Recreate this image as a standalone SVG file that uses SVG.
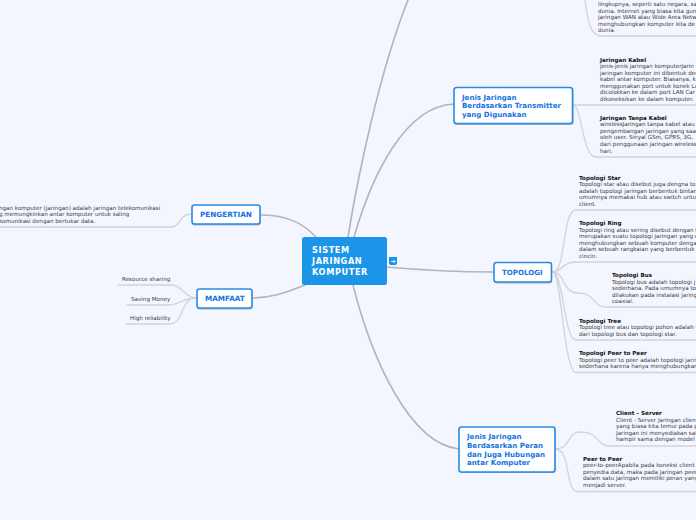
<svg xmlns="http://www.w3.org/2000/svg" width="696" height="520" viewBox="0 0 696 520">
<style>
text{font-family:"DejaVu Sans",Verdana,sans-serif}
.c{fill:none;stroke:#b4b4b8;stroke-width:1.6;stroke-linecap:round}
.s{fill:none;stroke:#d2d3da;stroke-width:1.3;stroke-linecap:round}
.n{fill:#fff;stroke:#2a8ae6;stroke-width:1.6}
.d{fill:#9db4cc}
.l{font-size:7.05px;font-weight:700;fill:#1673e0}
.u{font-size:7.25px;font-weight:700;fill:#1673e0}
.t{font-size:5.6px;fill:#3a3a3a}
.h{font-size:5.6px;font-weight:700;fill:#111}
</style>
<rect width="696" height="520" fill="#f3f6ff"/>
<g id="connectors">
<path class="c" d="M348 237C358 175 380 70 408 0"/>
<path class="c" d="M354 237C372 175 405 106 454 104"/>
<path class="c" d="M316 237C302 222 285 215 260 215"/>
<path class="c" d="M305 285C285 293 270 298 252 298"/>
<path class="c" d="M386 267C420 270 455 272 494 272"/>
<path class="c" d="M353 285C372 360 410 444 459 449"/>
<path class="s" d="M585 0C588 22 590 36 602 36H696"/>
<path class="s" d="M573 105H696"/>
<path class="s" d="M573 105C582 105 582 157 596 157H696"/>
<path class="s" d="M553 272C566 272 562 210 576 210H696"/>
<path class="s" d="M553 272C562 272 562 262 576 262H696"/>
<path class="s" d="M553 272C565 272 562 293 578 293C596 293 592 307 606 307H696"/>
<path class="s" d="M553 272C563 272 564 340 576 340H696"/>
<path class="s" d="M553 272C561 272 564 372.500 576 372.500H696"/>
<path class="s" d="M555 449C572 449 566 432 580 432C600 432 596 446 610 446H696"/>
<path class="s" d="M555 449C572 449 564 491.500 578 491.500H696"/>
<path class="s" d="M0 227H172C180 227 180 214 191 214"/>
<path class="s" d="M118 285H172C182 285 185 298 196 298"/>
<path class="s" d="M127 305H168C180 305 182 298 196 298"/>
<path class="s" d="M126 324H170C184 324 180 298 196 298"/>
</g>
<g id="root"><rect x="302" y="237" width="85" height="48" rx="2.500" fill="#1a95e8"/>
<text x="312" y="253" font-size="8.2" font-weight="700" fill="#fff" letter-spacing=".6">SISTEM</text>
<text x="312" y="264" font-size="8.2" font-weight="700" fill="#fff" letter-spacing=".6">JARINGAN</text>
<text x="312" y="275" font-size="8.2" font-weight="700" fill="#fff" letter-spacing=".6">KOMPUTER</text></g>
<g id="collapse"><path d="M389 257H397V263.500L396 265H390L389 263.500Z" fill="#1a95e8"/><path d="M391 261.500H395M393.500 260L395 261.500L393.500 263" stroke="#fff" stroke-width=".8" fill="none"/></g>
<g id="jenis-transmitter"><rect class="d" x="454" y="89" width="119.500" height="36" rx="2.500"/><rect class="n" x="454" y="87.500" width="118.500" height="36" rx="2.500"/>
<text class="l" x="462" y="100">Jenis Jaringan</text><text class="l" x="462" y="108">Berdasarkan Transmitter</text><text class="l" x="462" y="117">yang Digunakan</text></g>
<g id="topologi"><rect class="d" x="494" y="264" width="58" height="19.500" rx="2.500"/><rect class="n" x="494" y="262.500" width="57.500" height="19.500" rx="2.500"/><text class="l" x="502" y="275">TOPOLOGI</text></g>
<g id="jenis-peran"><rect class="d" x="459" y="428" width="96.500" height="45" rx="2.500"/><rect class="n" x="459" y="427" width="96" height="45" rx="2.500"/>
<text class="l" x="467" y="439">Jenis Jaringan</text><text class="l" x="467" y="448">Berdasarkan Peran</text><text class="l" x="467" y="456.500">dan Juga Hubungan</text><text class="l" x="467" y="465">antar Komputer</text></g>
<g id="pengertian"><rect class="d" x="192" y="206" width="68.500" height="19.500" rx="2.500"/><rect class="n" x="192" y="205" width="68" height="19" rx="2.500"/><text class="u" x="200" y="217">PENGERTIAN</text></g>
<g id="mamfaat"><rect class="d" x="197" y="290" width="55.500" height="19.500" rx="2.500"/><rect class="n" x="197" y="289" width="55" height="19" rx="2.500"/><text class="u" x="205" y="301">MAMFAAT</text></g>
<g id="wan"><text class="t" x="598" y="6">lingkupnya, seperti satu negara, sa</text><text class="t" x="598" y="12.500">dunia. Internet yang biasa kita gun</text><text class="t" x="598" y="19">jaringan WAN atau Wide Area Netw</text><text class="t" x="598" y="25.500">menghubungkan komputer kita de</text><text class="t" x="598" y="32">dunia.</text></g>
<g id="kabel"><text class="h" x="600" y="62">Jaringan Kabel</text><text class="t" x="600" y="68">jenis-jenis jaringan komputerJarin</text><text class="t" x="600" y="75">jaringan komputer ini dibentuk der</text><text class="t" x="600" y="81">kabel antar komputer. Biasanya, k</text><text class="t" x="600" y="88">menggunakan port untuk konek LA</text><text class="t" x="600" y="94">dicolokkan ke dalam port LAN Car</text><text class="t" x="600" y="101">dikoneksikan ke dalam komputer.</text></g>
<g id="tanpa-kabel"><text class="h" x="600" y="120">Jaringan Tanpa Kabel</text><text class="t" x="600" y="126">wirelessJaringan tanpa kabel atau</text><text class="t" x="600" y="133">pengembangan jaringan yang saag</text><text class="t" x="600" y="139">oleh user. Sinyal GSm, GPRS, 3G,</text><text class="t" x="600" y="146">dari penggunaan jaringan wireless</text><text class="t" x="600" y="153">hari.</text></g>
<g id="star"><text class="h" x="579" y="180">Topologi Star</text><text class="t" x="579" y="186">Topologi star atau disebut juga dengna to</text><text class="t" x="579" y="193">adalah topologi jaringan berbentuk bintan</text><text class="t" x="579" y="199">umumnya memakai hub atau switch untuk</text><text class="t" x="579" y="206">client.</text></g>
<g id="ring"><text class="h" x="579" y="225">Topologi Ring</text><text class="t" x="579" y="232">Topologi ring atau sering disebut dengan t</text><text class="t" x="579" y="238">merupakan suatu topologi jaringan yang c</text><text class="t" x="579" y="245">menghubungkan sebuah komputer dengan</text><text class="t" x="579" y="251">dalam sebuah rangkaian yang berbentuk s</text><text class="t" x="579" y="258">cincin.</text></g>
<g id="bus"><text class="h" x="612" y="277">Topologi Bus</text><text class="t" x="612" y="284">Topologi bus adalah topologi j</text><text class="t" x="612" y="290">sederhana. Pada umumnya to</text><text class="t" x="612" y="297">dilakukan pada instalasi jaring</text><text class="t" x="612" y="303">coaxial.</text></g>
<g id="tree"><text class="h" x="579" y="323">Topologi Tree</text><text class="t" x="579" y="329">Topologi tree atau topologi pohon adalah y</text><text class="t" x="579" y="336">dari topologi bus dan topologi star.</text></g>
<g id="p2p"><text class="h" x="579" y="355">Topologi Peer to Peer</text><text class="t" x="579" y="362">Topologi peer to peer adalah topologi jarin</text><text class="t" x="579" y="368">sederhana karena hanya menghubungkan</text></g>
<g id="client"><text class="h" x="616" y="415">Client – Server</text><text class="t" x="616" y="422">Client - Server Jaringan clien</text><text class="t" x="616" y="428">yang biasa kita temui pada p</text><text class="t" x="616" y="435">Jaringan ini menyediakan sat</text><text class="t" x="616" y="441">hampir sama dengan model j</text></g>
<g id="peer"><text class="h" x="583" y="461">Peer to Peer</text><text class="t" x="583" y="467">peer-to-peerApabila pada koneksi client</text><text class="t" x="583" y="474">penyedia data, maka pada jaringan peer</text><text class="t" x="583" y="480">dalam satu jaringan memiliki peran yang</text><text class="t" x="583" y="487">menjadi server.</text></g>
<g id="def"><text class="t" x="-1" y="210">ngan komputer (jaringan) adalah jaringan telekomunikasi</text><text class="t" x="-1" y="216">g memungkinkan antar komputer untuk saling</text><text class="t" x="-1" y="223">komunikasi dengan bertukar data.</text></g>
<g id="b1"><text class="t" x="122" y="281">Resource sharing</text></g>
<g id="b2"><text class="t" x="131" y="301">Saving Money</text></g>
<g id="b3"><text class="t" x="130" y="320">High reliability</text></g>
</svg>
